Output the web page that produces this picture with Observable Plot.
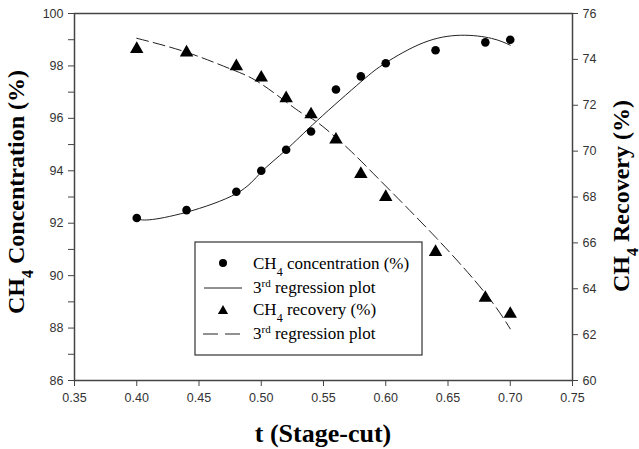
<!DOCTYPE html>
<html>
<head>
<meta charset="utf-8">
<script src="https://cdn.jsdelivr.net/npm/d3@7"></script>
<script src="https://cdn.jsdelivr.net/npm/@observablehq/plot@0.6"></script>
<style>
  body { margin: 0; background: white; }
  #chart { position: relative; width: 639px; height: 449px; }
  #chart svg { position: absolute; left: 0; top: 0; }
  #chart svg.plotlayer, #chart svg.plotlayer text { font-family: "Liberation Sans", Arimo, Arial, sans-serif; }
  .serif, .serif tspan { font-family: "Liberation Serif", Tinos, "Times New Roman", "DejaVu Serif", serif; }
</style>
</head>
<body>
<div id="chart"></div>
<script>
// ---- data ----
const stageCut = [0.40, 0.44, 0.48, 0.50, 0.52, 0.54, 0.56, 0.58, 0.60, 0.64, 0.68, 0.70];
const concentration = [92.2, 92.5, 93.2, 94.0, 94.8, 95.5, 97.1, 97.6, 98.1, 98.6, 98.9, 99.0];
const recovery = [74.45, 74.3, 73.7, 73.2, 72.3, 71.6, 70.5, 69.0, 68.0, 65.6, 63.6, 62.9];

// 3rd-order regression curves
const concFitT = [0.40, 0.41, 0.44, 0.48, 0.50, 0.52, 0.545, 0.58, 0.60, 0.63, 0.66, 0.685, 0.70];
const concFitV = [92.18, 92.13, 92.42, 93.13, 93.95, 94.8, 95.92, 97.39, 98.12, 98.88, 99.17, 99.05, 98.79];
const recFitT = [0.40, 0.44, 0.475, 0.50, 0.53, 0.545, 0.57, 0.595, 0.64, 0.68, 0.70];
const recFitV = [74.92, 74.31, 73.59, 72.93, 71.75, 71.26, 70.1, 68.75, 66.25, 63.8, 62.25];

const xTicks = [0.35, 0.40, 0.45, 0.50, 0.55, 0.60, 0.65, 0.70, 0.75];
const yLeftTicks = d3.range(86, 101, 1);
const yRightTicks = d3.range(60, 77, 2);

const concPts = stageCut.map((t, i) => ({t, v: concentration[i]}));
const recPts = stageCut.map((t, i) => ({t, v: recovery[i]}));
const concFit = concFitT.map((t, i) => ({t, v: concFitV[i]}));
const recFit = recFitT.map((t, i) => ({t, v: recFitV[i]}));

const common = {
  width: 639, height: 449,
  marginLeft: 74, marginRight: 67, marginTop: 13, marginBottom: 69,
  className: "plotlayer",
  style: "background: transparent; font-size: 12.5px; color: #333; overflow: visible;"
};

const p1 = Plot.plot({
  ...common,
  x: {domain: [0.35, 0.75]},
  y: {domain: [86, 100]},
  marks: [
    Plot.axisX({ticks: xTicks, tickFormat: d => d.toFixed(2), tickSize: 6, tickPadding: 7, label: null, stroke: "#444"}),
    Plot.axisY({ticks: yLeftTicks, tickFormat: d => d % 2 === 0 ? String(d) : "", tickSize: 6, tickPadding: 5, label: null, stroke: "#444"}),
    Plot.line(concFit, {x: "t", y: "v", curve: "natural", stroke: "#222", strokeWidth: 1}),
    Plot.dot(concPts, {x: "t", y: "v", r: 4.3, fill: "#000", stroke: "none", symbol: "circle"}),
    Plot.frame({stroke: "#444", strokeWidth: 1.5})
  ]
});

const p2 = Plot.plot({
  ...common,
  x: {domain: [0.35, 0.75], axis: null},
  y: {domain: [60, 76]},
  marks: [
    Plot.axisY({anchor: "right", ticks: yRightTicks, tickSize: 5, tickPadding: 5, label: null, stroke: "#444"}),
    Plot.line(recFit, {x: "t", y: "v", curve: "natural", stroke: "#222", strokeWidth: 1, strokeDasharray: "12,5"}),
    Plot.dot(recPts, {x: "t", y: "v", r: 5, fill: "#000", stroke: "none", symbol: "triangle"})
  ]
});

const chart = document.getElementById("chart");
chart.appendChild(p1);
chart.appendChild(p2);

// ---- titles and legend (text overlay) ----
const svg = d3.select(chart).append("svg").attr("width", 639).attr("height", 449)
  .style("overflow", "visible");

function titleText(sel, pre, subTxt, rest, subSize) {
  sel.append("tspan").text(pre);
  sel.append("tspan").attr("baseline-shift", "sub").attr("font-size", subSize).text(subTxt);
  sel.append("tspan").text(rest);
}

// left title
const lt = svg.append("text").attr("class", "serif").attr("transform", "translate(24,192) rotate(-90)")
  .attr("text-anchor", "middle").attr("font-weight", "bold").attr("font-size", 24).attr("fill", "#000");
titleText(lt, "CH", "4", " Concentration (%)", 16);

// right title
const rt = svg.append("text").attr("class", "serif").attr("transform", "translate(629,196) rotate(-90)")
  .attr("text-anchor", "middle").attr("font-weight", "bold").attr("font-size", 24).attr("fill", "#000");
titleText(rt, "CH", "4", " Recovery (%)", 16);

// bottom title
svg.append("text").attr("class", "serif").attr("x", 323).attr("y", 442).attr("text-anchor", "middle")
  .attr("font-weight", "bold").attr("font-size", 26).attr("fill", "#000")
  .text("t (Stage-cut)");

// legend
const lg = svg.append("g");
lg.append("rect").attr("x", 195).attr("y", 242).attr("width", 227).attr("height", 113)
  .attr("fill", "white").attr("stroke", "#333").attr("stroke-width", 1.2);
lg.append("circle").attr("cx", 223).attr("cy", 263).attr("r", 4).attr("fill", "#000");
lg.append("line").attr("x1", 204).attr("x2", 242).attr("y1", 288).attr("y2", 288).attr("stroke", "#222").attr("stroke-width", 1);
lg.append("path").attr("d", d3.symbol(d3.symbolTriangle, 45)()).attr("transform", "translate(223,311)").attr("fill", "#000");
lg.append("line").attr("x1", 203).attr("x2", 240).attr("y1", 334).attr("y2", 334).attr("stroke", "#222").attr("stroke-width", 1).attr("stroke-dasharray", "15,7");

const labels = [
  {y: 269, kind: "ch4", rest: " concentration (%)"},
  {y: 293, kind: "rd"},
  {y: 315, kind: "ch4", rest: " recovery (%)"},
  {y: 339, kind: "rd"}
];
labels.forEach(l => {
  const t = lg.append("text").attr("class", "serif").attr("x", 253).attr("y", l.y).attr("font-size", 17).attr("fill", "#000");
  if (l.kind === "ch4") {
    titleText(t, "CH", "4", l.rest, 12);
  } else {
    t.append("tspan").text("3");
    t.append("tspan").attr("baseline-shift", "super").attr("font-size", 11).text("rd");
    t.append("tspan").text(" regression plot");
  }
});
</script>
</body>
</html>
